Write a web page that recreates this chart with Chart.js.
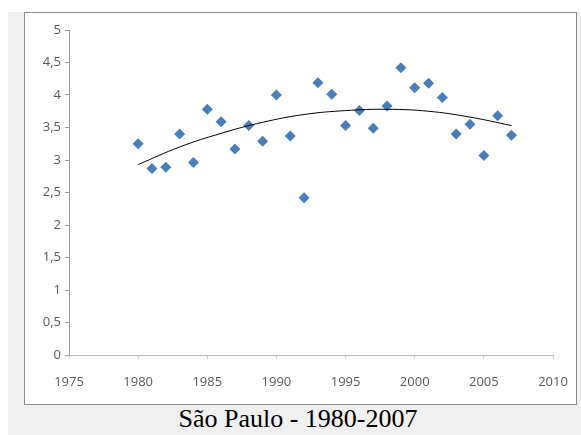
<!DOCTYPE html>
<html>
<head>
<meta charset="utf-8">
<script src="https://cdn.jsdelivr.net/npm/chart.js@4"></script>
<style>
  body { margin: 0; background: #fff; width: 581px; height: 435px; overflow: hidden; }
  #frame { position: absolute; left: 8px; top: 12px; width: 573px; height: 423px; background: #f0f0f0; }
  #box { position: absolute; left: 24px; top: 12px; width: 551px; height: 391px; background: #fff; border: 1px solid #8a8a8a; }
  #caption { position: absolute; left: 8px; top: 404px; width: 580px; text-align: center; line-height: 30px;
             font-family: "Liberation Serif", "Times New Roman", serif; font-size: 26px; color: #000; }
</style>
</head>
<body>
<div id="frame"></div>
<div id="box"><canvas id="chart" width="551" height="391"></canvas></div>
<div id="caption">São Paulo - 1980-2007</div>
<script>
// yearly values
const years  = [1980,1981,1982,1983,1984,1985,1986,1987,1988,1989,1990,1991,1992,1993,
                1994,1995,1996,1997,1998,1999,2000,2001,2002,2003,2004,2005,2006,2007];
const values = [3.25,2.87,2.89,3.40,2.96,3.78,3.59,3.17,3.53,3.29,4.00,3.37,2.42,4.19,
                4.01,3.53,3.76,3.49,3.83,4.42,4.11,4.18,3.96,3.40,3.55,3.07,3.68,3.38];
// trend curve, read at a few years
const trendYears  = [1980,1983,1986,1989,1992,1995,1998,2001,2004,2007];
const trendValues = [2.93,3.20,3.41,3.58,3.70,3.76,3.78,3.75,3.66,3.53];

const xTicks = [1975,1980,1985,1990,1995,2000,2005,2010];
const yTicks = [0,0.5,1,1.5,2,2.5,3,3.5,4,4.5,5];

const ctx = document.getElementById("chart").getContext("2d");

const tickFont = { family: "'Open Sans', 'DejaVu Sans', sans-serif", size: 13 };

const chart = new Chart(ctx, {
    type: 'scatter',
    data: {
        datasets: [{
            label: 'São Paulo',
            data: years.map((y, i) => ({ x: y, y: values[i] })),
            pointStyle: 'rectRot',
            pointRadius: 5.5,
            backgroundColor: '#4a7ebb',
            borderColor: '#4a7ebb',
            borderWidth: 0,
            order: 2
        }, {
            label: 'trend',
            type: 'line',
            data: trendYears.map((y, i) => ({ x: y, y: trendValues[i] })),
            borderColor: '#000',
            borderWidth: 1,
            pointRadius: 0,
            tension: 0.4,
            fill: false,
            order: 1
        }]
    },
    options: {
        responsive: false,
        animation: false,
        layout: { padding: { left: 0, right: 23, top: 17, bottom: 0 } },
        plugins: { legend: { display: false }, tooltip: { enabled: false } },
        scales: {
            x: {
                type: 'linear',
                min: 1975, max: 2010,
                afterBuildTicks: (s) => { s.ticks = xTicks.map(v => ({ value: v })); },
                afterFit: (s) => { s.height = 49; s.paddingLeft = 0; s.paddingRight = 0; },
                grid: { drawOnChartArea: false, tickLength: 4, color: '#d0d0d0' },
                border: { color: '#b8b8b8' },
                ticks: { color: '#595959', font: tickFont, padding: 15, maxRotation: 0,
                         callback: (v) => String(v) }
            },
            y: {
                min: 0, max: 5,
                afterBuildTicks: (s) => { s.ticks = yTicks.map(v => ({ value: v })); },
                afterFit: (s) => { s.width = 44; s.paddingTop = 0; s.paddingBottom = 0; },
                grid: { drawOnChartArea: false, tickLength: 4, color: '#9a9a9a' },
                border: { color: '#9a9a9a' },
                ticks: { color: '#595959', font: tickFont, padding: 4,
                         callback: (v) => String(v).replace('.', ',') }
            }
        }
    }
});
</script>
</body>
</html>
